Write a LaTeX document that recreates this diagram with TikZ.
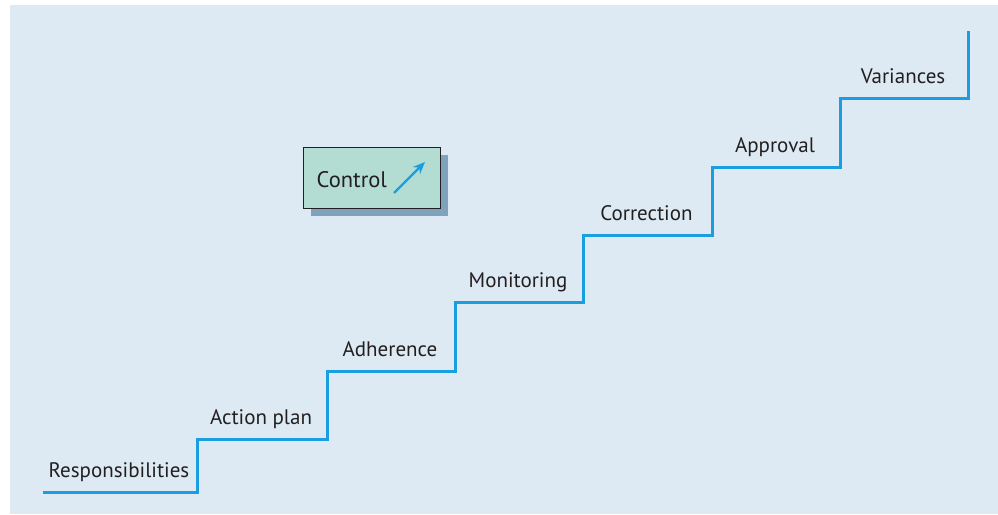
\documentclass[tikz,border=0pt]{standalone}
\usepackage{fontspec}
\setmainfont{PT Sans}
\usetikzlibrary{arrows.meta,positioning,calc,shadows}
\definecolor{bgc}{HTML}{DDEAF3}
\definecolor{stairc}{HTML}{1A9EDF}
\definecolor{boxc}{HTML}{B3DDD3}
\definecolor{shadc}{HTML}{7FA3BC}
\definecolor{textc}{HTML}{231F20}
\tikzset{
  >={Stealth[length=12pt,width=10pt]},
  stair/.style={draw=stairc,line width=3pt},
  steplbl/.style={font=\fontsize{21}{25}\selectfont,text=textc,anchor=base,inner sep=0pt},
  ctrlbox/.style={draw=textc,line width=1pt,fill=boxc,minimum width=137pt,minimum height=61pt,inner sep=0pt,
    drop shadow={shadow xshift=8pt,shadow yshift=-8pt,fill=shadc,opacity=1}},
  ctrllbl/.style={font=\fontsize{22.5}{27}\selectfont,text=textc,anchor=base west,inner sep=0pt},
  ctrlarr/.style={->,draw=stairc,line width=2.2pt},
}
\begin{document}
\begin{tikzpicture}[x=1pt,y=-1pt]
  \useasboundingbox (0,0) rectangle (998,514);
  \fill[bgc] (10,5) rectangle (998,514);
  % steps of the stair
  \foreach \xa/\xb/\yy/\lbl [count=\k] in {43/197/492/Responsibilities,197/327/439/Action plan,
      327/455/371/Adherence,455/583/302/Monitoring,583/712/235/Correction,
      712/840/167/Approval,840/968/98/Variances} {
    \coordinate (a\k) at (\xa,\yy);
    \coordinate (b\k) at (\xb,\yy);
    \node[steplbl] (l\k) at ($(a\k)!0.5!(b\k)+(-1,-15)$) {\lbl};
  }
  \coordinate (top) at (968,31);
  \draw[stair] (a1) -- (b1) -- (a2) -- (b2) -- (a3) -- (b3) -- (a4) -- (b4) -- (a5) -- (b5)
    -- (a6) -- (b6) -- (a7) -- (b7) -- (top);
  % control box
  \node[ctrlbox] (ctrl) at (371.5,177.5) {};
  \node[ctrllbl] (ctrltxt) at ($(ctrl.west)+(14,9.5)$) {Control};
  \coordinate (arrs) at (394,193);
  \coordinate (arre) at (425,162);
  \draw[ctrlarr] (arrs) -- (arre);
\end{tikzpicture}
\end{document}
